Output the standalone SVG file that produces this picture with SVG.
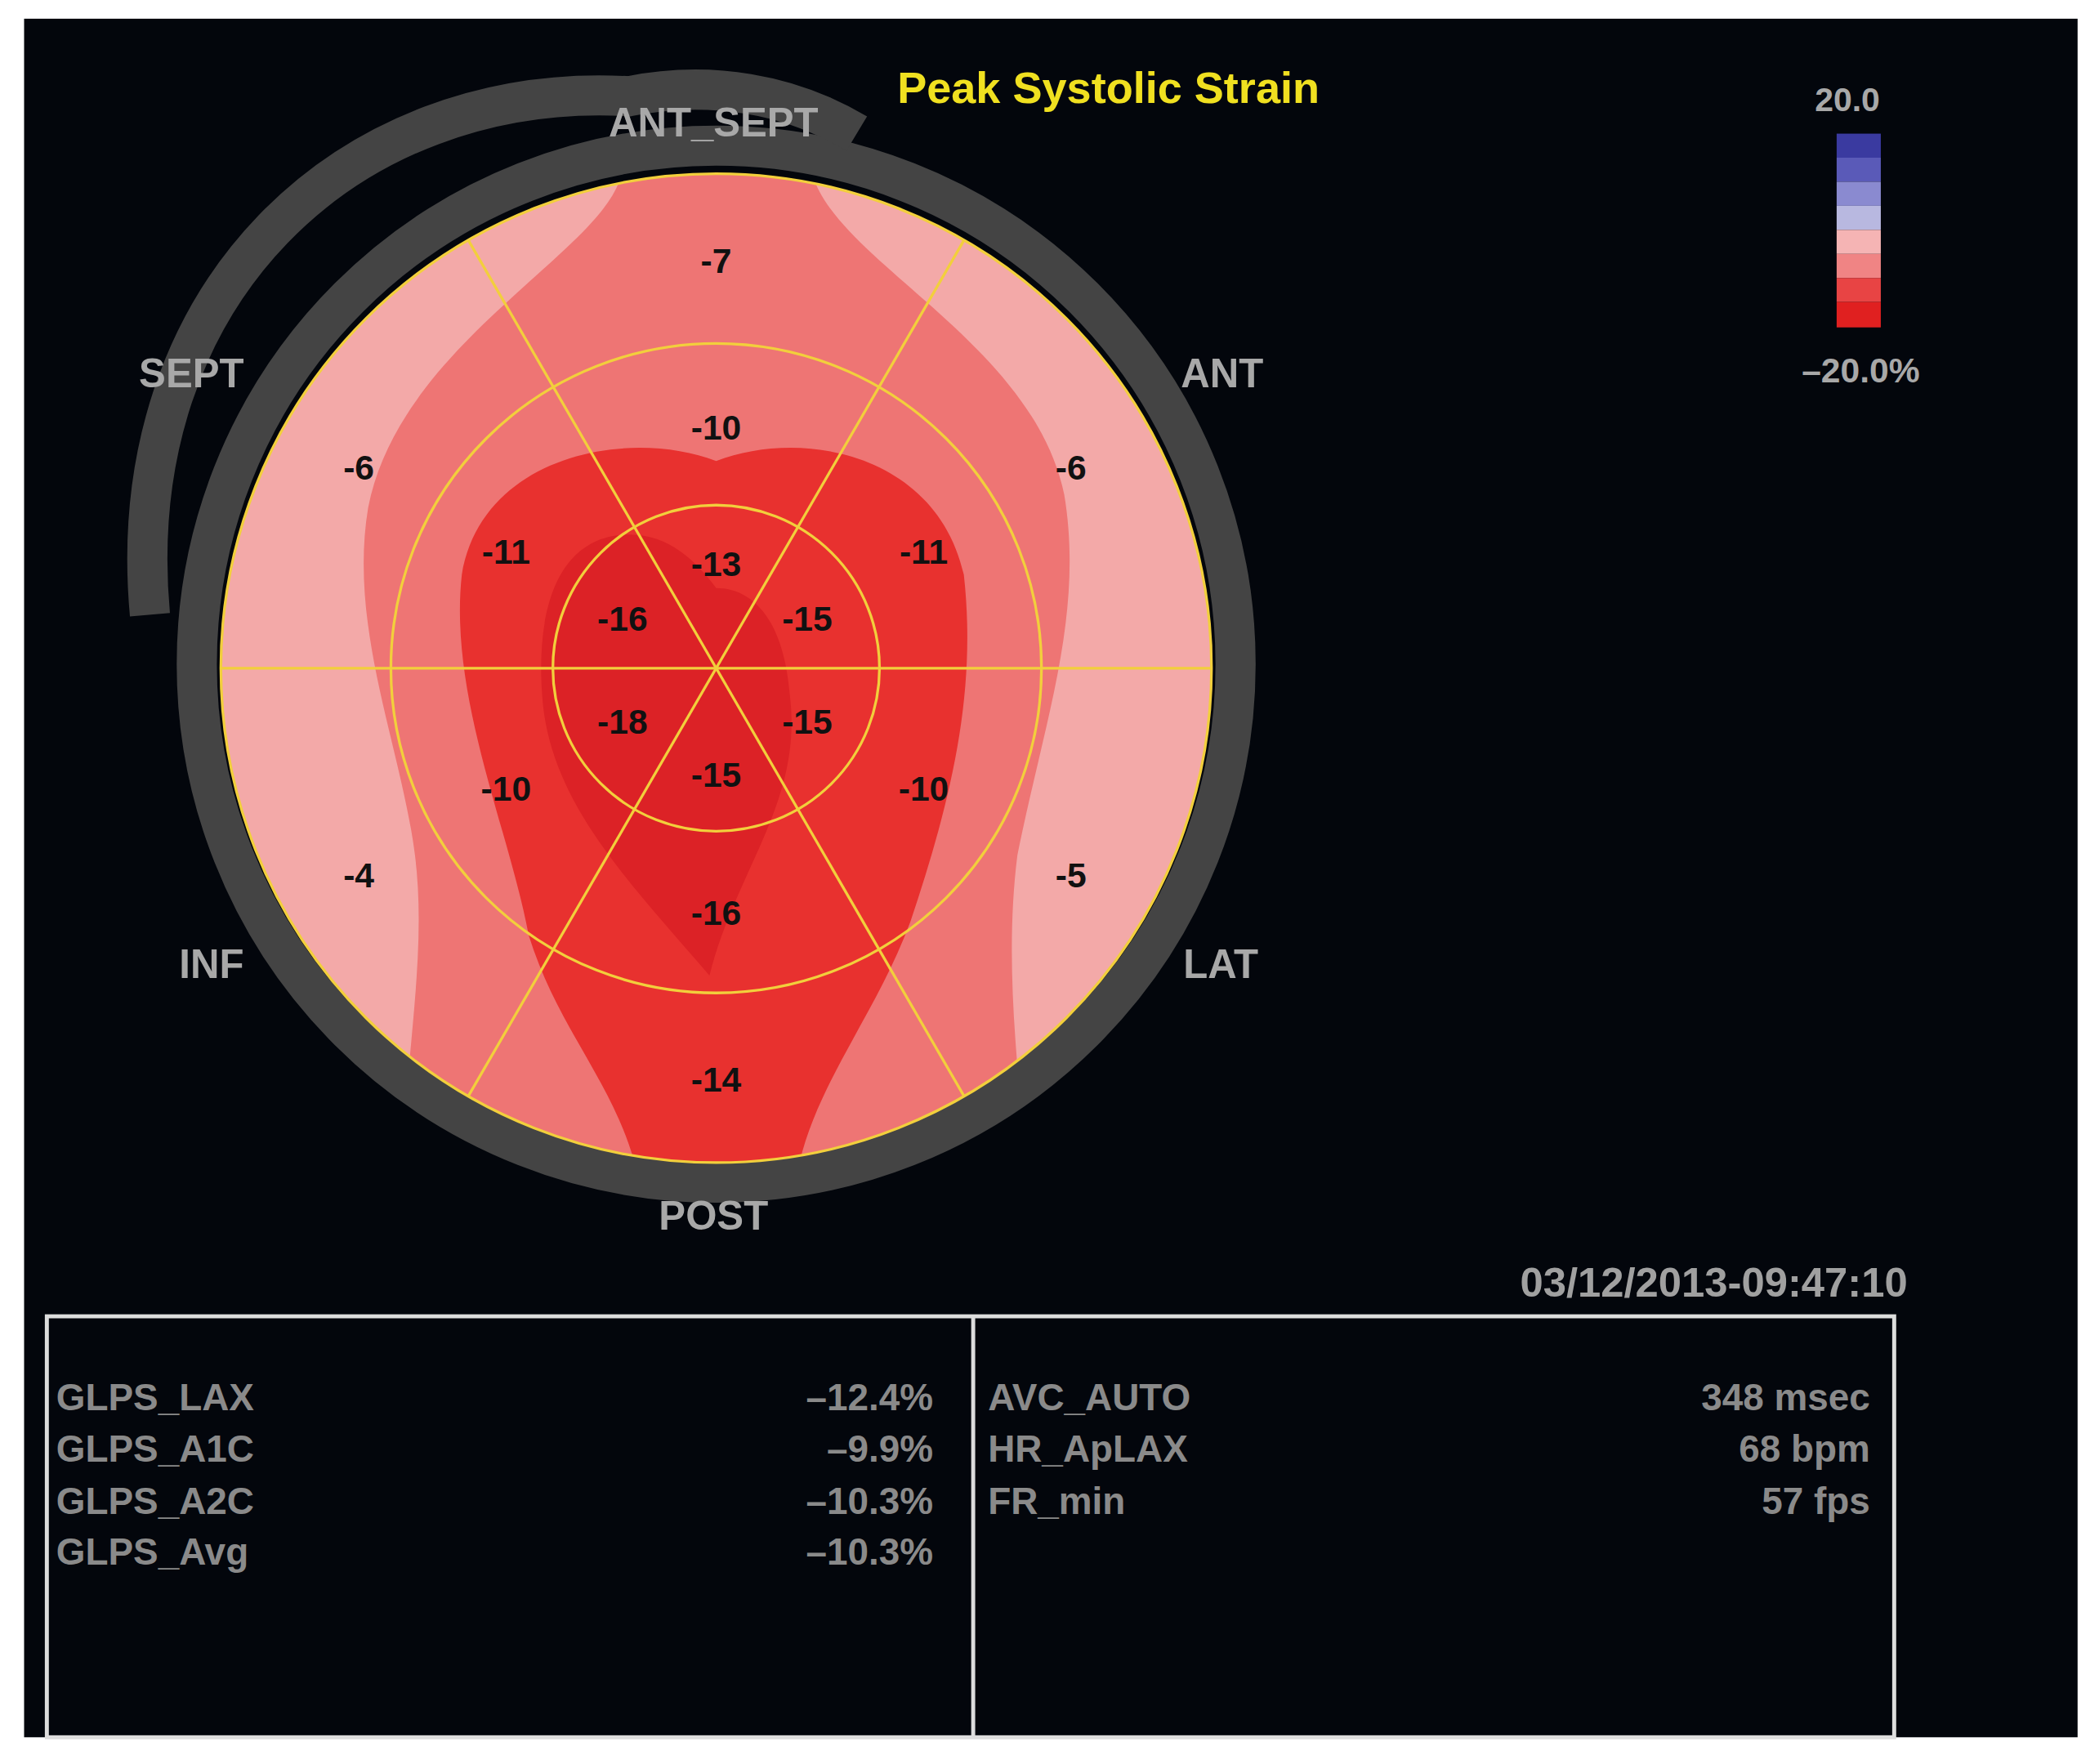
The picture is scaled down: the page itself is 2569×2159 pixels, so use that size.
<svg xmlns="http://www.w3.org/2000/svg" width="2569" height="2159" viewBox="0 0 2569 2159">
<style>
.n{font-family:"Liberation Sans",Arial,sans-serif;font-weight:bold;font-size:26px;fill:#111;text-anchor:middle}
.g{font-family:"Liberation Sans",Arial,sans-serif;font-weight:bold;font-size:30px;fill:#a8a8a8;text-anchor:middle}
.t{font-family:"Liberation Sans",Arial,sans-serif;font-weight:bold;font-size:28px;fill:#8a8a8a}
.y{fill:none;stroke:#f2cf3c;stroke-width:2}
</style>
<defs><clipPath id="c"><circle cx="535" cy="500" r="370"/></clipPath></defs>
<rect width="2569" height="2159" fill="#fff"/>
<g transform="scale(1.6384,1.6356)">
<rect x="18" y="14" width="1534" height="1286" fill="#03060c"/>
<circle cx="535" cy="497" r="388" fill="none" stroke="#444" stroke-width="30"/>
<path d="M640,100 C590,70 530,60 470,72 C260,60 90,220 112,460" fill="none" stroke="#444" stroke-width="30"/>
<g clip-path="url(#c)">
<circle cx="535" cy="500" r="370" fill="#f3a9a8"/>
<path d="M465,120 C470,180 300,250 275,380 C260,470 300,560 310,640 C320,720 300,800 300,900 L770,900 C760,800 750,720 760,640 C780,540 810,460 795,370 C770,250 610,190 605,120 Z" fill="#ee7574"/>
<path d="M535,345 C470,320 360,340 345,430 C335,520 380,620 395,700 C420,780 470,820 480,900 L592,900 C600,820 650,770 680,690 C710,600 730,520 720,430 C700,340 600,320 535,345 Z" fill="#e8312f"/>
<path d="M470,400 C420,400 400,450 405,520 C410,600 470,660 530,730 C550,650 600,600 590,520 C585,460 560,440 535,440 C520,420 500,400 470,400 Z" fill="#dc2226"/>
</g>
<circle class="y" cx="535" cy="500" r="370"/>
<circle class="y" cx="535" cy="500" r="243"/>
<circle class="y" cx="535" cy="500" r="122"/>
<line class="y" x1="165" y1="500" x2="905" y2="500"/>
<line class="y" x1="350" y1="180" x2="720" y2="820"/>
<line class="y" x1="720" y1="180" x2="350" y2="820"/>
<g class="n">
<text x="535" y="204">-7</text><text x="535" y="329">-10</text><text x="535" y="431">-13</text>
<text x="268" y="359">-6</text><text x="378" y="422">-11</text><text x="465" y="472">-16</text>
<text x="603" y="472">-15</text><text x="690" y="422">-11</text><text x="800" y="359">-6</text>
<text x="465" y="549">-18</text><text x="603" y="549">-15</text><text x="378" y="599">-10</text>
<text x="535" y="589">-15</text><text x="690" y="599">-10</text><text x="268" y="664">-4</text>
<text x="800" y="664">-5</text><text x="535" y="692">-16</text><text x="535" y="817">-14</text>
</g>
<g class="g">
<text x="533" y="102">ANT_SEPT</text><text x="143" y="290">SEPT</text><text x="913" y="290">ANT</text>
<text x="158" y="732">INF</text><text x="912" y="732">LAT</text><text x="533" y="920">POST</text>
</g>
<text x="828" y="77" font-family="Liberation Sans,Arial,sans-serif" font-weight="bold" font-size="33" fill="#f0e020" text-anchor="middle">Peak Systolic Strain</text>
<rect x="1372" y="100" width="33" height="18" fill="#3a3aa0"/>
<rect x="1372" y="118" width="33" height="18" fill="#5a5ab8"/>
<rect x="1372" y="136" width="33" height="18" fill="#8a8ad0"/>
<rect x="1372" y="154" width="33" height="18" fill="#b8b8e0"/>
<rect x="1372" y="172" width="33" height="18" fill="#f5b4b4"/>
<rect x="1372" y="190" width="33" height="18" fill="#f08484"/>
<rect x="1372" y="208" width="33" height="18" fill="#e84444"/>
<rect x="1372" y="226" width="33" height="19" fill="#e02020"/>
<text x="1380" y="83" class="g" style="font-size:25px">20.0</text>
<text x="1390" y="286" class="g" style="font-size:26px">–20.0%</text>
<text x="1425" y="970" class="t" text-anchor="end" style="fill:#a0a0a0;font-size:31px">03/12/2013-09:47:10</text>
<rect x="35" y="985" width="1380" height="315" fill="none" stroke="#ddd" stroke-width="3"/>
<line x1="727" y1="985" x2="727" y2="1300" stroke="#ddd" stroke-width="3"/>
<g class="t">
<text x="42" y="1055">GLPS_LAX</text><text x="42" y="1094">GLPS_A1C</text><text x="42" y="1133">GLPS_A2C</text><text x="42" y="1171">GLPS_Avg</text>
<text x="738" y="1055">AVC_AUTO</text><text x="738" y="1094">HR_ApLAX</text><text x="738" y="1133">FR_min</text>
</g>
<g class="t" text-anchor="end">
<text x="697" y="1055">–12.4%</text><text x="697" y="1094">–9.9%</text><text x="697" y="1133">–10.3%</text><text x="697" y="1171">–10.3%</text>
<text x="1397" y="1055">348 msec</text><text x="1397" y="1094">68 bpm</text><text x="1397" y="1133">57 fps</text>
</g>
</g>
</svg>
